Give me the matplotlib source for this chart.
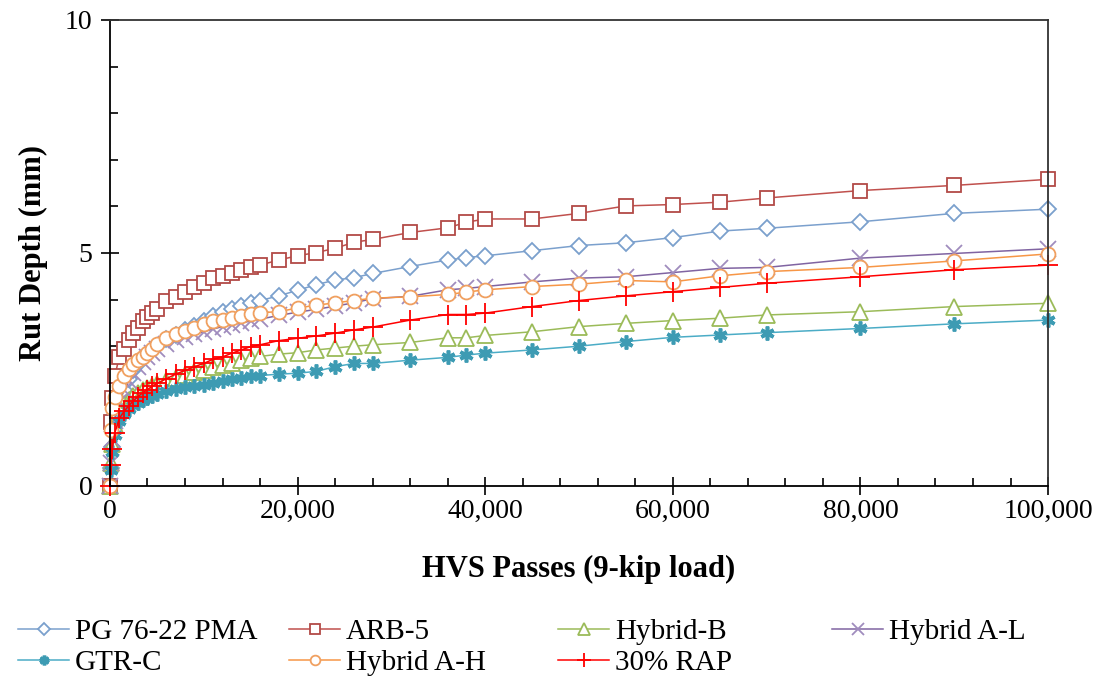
import matplotlib
matplotlib.use("Agg")
import matplotlib.pyplot as plt
from matplotlib.ticker import MultipleLocator, FuncFormatter

# HVS passes at each measurement
passes = [0, 100, 250, 500, 1000, 1500, 2000, 2500, 3000, 3500, 4000, 4500, 5000,
          6000, 7000, 8000, 9000, 10000, 11000, 12000, 13000, 14000, 15000, 16000,
          18000, 20000, 22000, 24000, 26000, 28000, 32000, 36000, 38000, 40000,
          45000, 50000, 55000, 60000, 65000, 70000, 80000, 90000, 100000]

# rut depth (mm) for each section
pma = [0, 0.38, 0.84, 1.30, 1.75, 2.05, 2.30, 2.48, 2.62, 2.74, 2.84, 2.93, 3.01,
       3.15, 3.25, 3.34, 3.44, 3.55, 3.65, 3.73, 3.80, 3.87, 3.93, 3.98, 4.08, 4.20,
       4.32, 4.42, 4.47, 4.56, 4.71, 4.85, 4.90, 4.94, 5.05, 5.16, 5.22, 5.33, 5.47,
       5.53, 5.67, 5.85, 5.94]
arb5 = [0, 1.38, 1.89, 2.35, 2.77, 2.93, 3.13, 3.28, 3.38, 3.54, 3.63, 3.71, 3.80,
        3.96, 4.06, 4.17, 4.28, 4.36, 4.46, 4.51, 4.58, 4.64, 4.69, 4.74, 4.85, 4.94,
        5.01, 5.10, 5.23, 5.29, 5.44, 5.54, 5.66, 5.73, 5.73, 5.85, 6.01, 6.04, 6.09,
        6.18, 6.34, 6.45, 6.58]
hybrid_b = [0, 0.5, 0.9, 1.3, 1.62, 1.75, 1.85, 1.93, 1.99, 2.05, 2.10, 2.14, 2.18,
            2.25, 2.32, 2.38, 2.44, 2.49, 2.56, 2.60, 2.65, 2.70, 2.74, 2.78, 2.83,
            2.86, 2.92, 2.96, 3.00, 3.03, 3.08, 3.18, 3.18, 3.23, 3.31, 3.42, 3.49,
            3.55, 3.60, 3.67, 3.74, 3.85, 3.92]
hybrid_al = [0, 0.5, 1.0, 1.4, 1.80, 2.05, 2.25, 2.42, 2.55, 2.66, 2.76, 2.85, 2.93,
             3.05, 3.13, 3.20, 3.26, 3.31, 3.37, 3.42, 3.46, 3.50, 3.54, 3.58, 3.66,
             3.73, 3.79, 3.86, 3.93, 4.02, 4.07, 4.21, 4.24, 4.28, 4.38, 4.46, 4.49,
             4.58, 4.67, 4.69, 4.89, 4.99, 5.09]
gtr_c = [0, 0.34, 0.73, 1.10, 1.40, 1.55, 1.65, 1.73, 1.79, 1.84, 1.89, 1.93, 1.97,
         2.03, 2.08, 2.12, 2.14, 2.17, 2.21, 2.25, 2.29, 2.32, 2.35, 2.37, 2.40, 2.42,
         2.46, 2.56, 2.63, 2.63, 2.70, 2.76, 2.81, 2.85, 2.92, 3.00, 3.10, 3.19, 3.24,
         3.29, 3.38, 3.48, 3.56]
hybrid_ah = [0, 1.20, 1.67, 1.92, 2.15, 2.35, 2.50, 2.62, 2.70, 2.76, 2.85, 2.95, 3.05,
             3.18, 3.26, 3.33, 3.40, 3.48, 3.53, 3.57, 3.61, 3.65, 3.70, 3.72, 3.74,
             3.82, 3.88, 3.93, 3.98, 4.03, 4.06, 4.11, 4.16, 4.21, 4.28, 4.33, 4.41,
             4.38, 4.51, 4.60, 4.69, 4.83, 4.98]
rap30 = [0, 0.45, 0.80, 1.13, 1.45, 1.60, 1.72, 1.83, 1.92, 2.00, 2.07, 2.14, 2.20,
         2.30, 2.40, 2.48, 2.56, 2.63, 2.72, 2.77, 2.85, 2.92, 2.99, 3.03, 3.12, 3.17,
         3.22, 3.28, 3.35, 3.41, 3.56, 3.68, 3.68, 3.71, 3.85, 3.98, 4.08, 4.17, 4.26,
         4.35, 4.49, 4.64, 4.74]

plt.rcParams['font.family'] = ['Liberation Serif', 'DejaVu Serif']

fig = plt.figure(figsize=(11.04, 6.82), dpi=100)
ax = fig.add_axes([0.0996, 0.2874, 0.8497, 0.6833])

style = dict(lw=1.1, mfc='white', mew=1.3, clip_on=False)
lines = {}
lines['pma'] = ax.plot(passes, pma, color='#7BA0CD', marker='D', ms=8.5,
                       mec='#7BA0CD', label='PG 76-22 PMA', **style)[0]
lines['arb'] = ax.plot(passes, arb5, color='#C0504D', marker='s', ms=10,
                       mec='#B24A47', label='ARB-5', **style)[0]
lines['hb'] = ax.plot(passes, hybrid_b, color='#9BBB59', marker='^', ms=11.5,
                      mec='#9BBB59', label='Hybrid-B', **style)[0]
lines['al'] = ax.plot(passes, hybrid_al, color='#8064A2', marker='x', ms=11.5,
                      mec='#A08CBE', label='Hybrid A-L', **style)[0]
lines['gtr'] = ax.plot(passes, gtr_c, color='#4BACC6', marker=(6, 2, 0), ms=10,
                       mec='#3D9BB3', label='GTR-C',
                       **{**style, 'mew': 2.6})[0]
lines['ah'] = ax.plot(passes, hybrid_ah, color='#F79646', marker='o', ms=10,
                      mec='#F0A060', label='Hybrid A-H', **style)[0]
lines['rap'] = ax.plot(passes, rap30, color='#FF0000', marker='+', ms=14,
                       mec='#FF0000', label='30% RAP', **style)[0]

ax.set_xlim(0, 100000)
ax.set_ylim(0, 10)

ax.xaxis.set_major_locator(MultipleLocator(20000))
ax.xaxis.set_minor_locator(MultipleLocator(4000))
ax.yaxis.set_major_locator(MultipleLocator(5))
ax.yaxis.set_minor_locator(MultipleLocator(1))
ax.xaxis.set_major_formatter(FuncFormatter(lambda v, p: f'{int(v):,}'))

ax.tick_params(which='major', direction='inout', length=13, width=1.2,
               labelsize=20)
ax.tick_params(which='minor', direction='in', length=6, width=1.2)
ax.tick_params(axis='x', which='major', pad=3)
ax.tick_params(axis='y', which='major', pad=6)
ax.tick_params(top=False, right=False, which='both')

for sp in ax.spines.values():
    sp.set_linewidth(1.3)
    sp.set_color('#333333')
ax.spines['left'].set_color('black')
ax.spines['bottom'].set_color('black')

ax.set_xlabel('HVS Passes (9-kip load)', fontsize=22, fontweight='bold', labelpad=22)
ax.set_ylabel('Rut Depth (mm)', fontsize=22, fontweight='bold', labelpad=12)

# legend laid out as four equal-width columns, two rows
columns = [['pma', 'gtr'], ['arb', 'ah'], ['hb', 'rap'], ['al']]
col_x = [18, 289, 558, 832]
for keys, x in zip(columns, col_x):
    hs = [lines[k] for k in keys]
    fig.legend(hs, [h.get_label() for h in hs], loc='upper left',
               bbox_to_anchor=(x / 1104, 1 - 619 / 682), frameon=False,
               fontsize=21, handlelength=1.75, handletextpad=0.2,
               borderpad=0, borderaxespad=0, labelspacing=0.15,
               markerscale=0.7)

fig.savefig('out.png', dpi=100)
